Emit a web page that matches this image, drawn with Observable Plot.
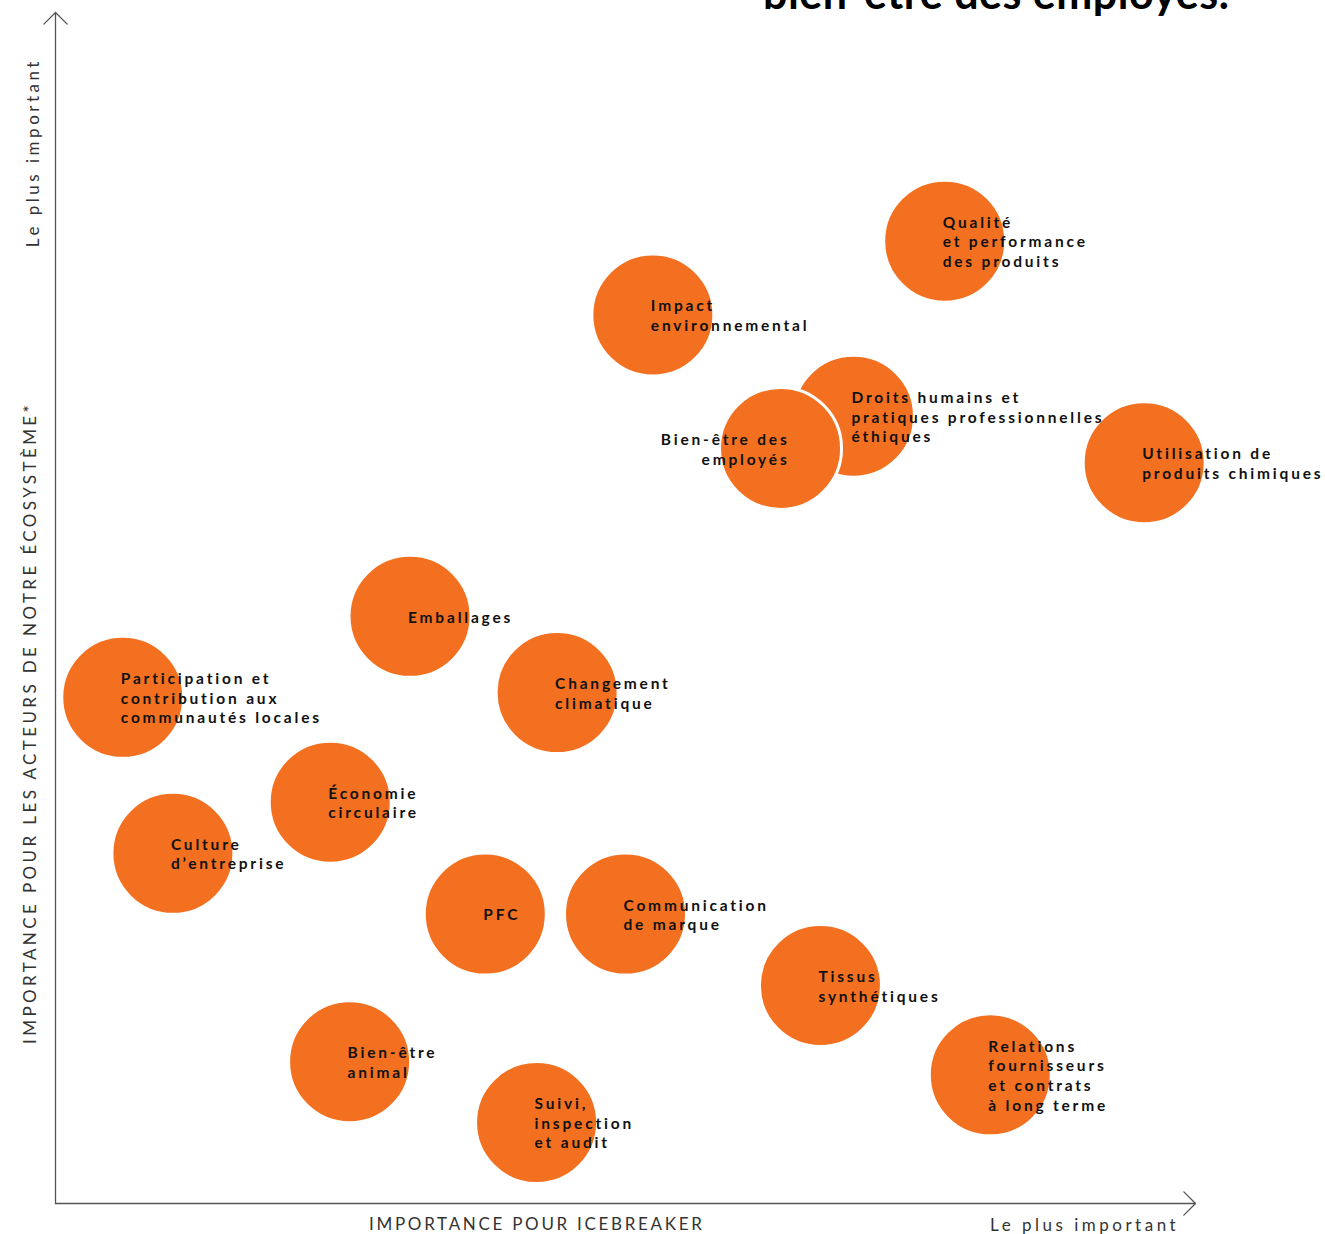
<!DOCTYPE html>
<html>
<head>
<meta charset="utf-8">
<script src="https://cdn.jsdelivr.net/npm/d3@7"></script>
<script src="https://cdn.jsdelivr.net/npm/@observablehq/plot@0.6"></script>
<style>
  body { margin: 0; background: #fff; }
  #wrap { position: relative; width: 1325px; height: 1234px; overflow: hidden; }
  #title { position: absolute; left: 763px; top: -29px; font-family: Lato, sans-serif; font-weight: 700; font-size: 43px; line-height: 1; white-space: nowrap; color: #000; letter-spacing: 0.5px; }
</style>
</head>
<body>
<div id="wrap">
  <div id="chart"></div>
  <div id="title">bien-être des employés.</div>
</div>
<script>
// Topics (labels with line breaks), importance for Icebreaker (x), importance for ecosystem actors (y)
const topics = [
  "Qualité\net performance\ndes produits",
  "Impact\nenvironnemental",
  "Droits humains et\npratiques professionnelles\néthiques",
  "Bien-être des\nemployés",
  "Utilisation de\nproduits chimiques",
  "Emballages",
  "Participation et\ncontribution aux\ncommunautés locales",
  "Changement\nclimatique",
  "Économie\ncirculaire",
  "Culture\nd’entreprise",
  "PFC",
  "Communication\nde marque",
  "Tissus\nsynthétiques",
  "Bien-être\nanimal",
  "Relations\nfournisseurs\net contrats\nà long terme",
  "Suivi,\ninspection\net audit"
];
const icebreaker = [7.80, 5.24, 7.00, 6.36, 9.55, 3.11, 0.59, 4.40, 2.41, 1.03, 3.77, 5.00, 6.71, 2.58, 8.20, 4.22];
const ecosystem  = [8.08, 7.46, 6.61, 6.34, 6.22, 4.93, 4.25, 4.29, 3.37, 2.94, 2.43, 2.43, 1.83, 1.19, 1.08, 0.68];
// label set to the left of the bubble centre (text ends there) instead of starting there
const labelLeft = [false, false, false, true, false, false, false, false, false, false, false, false, false, false, false, false];

const xAxisTitle = "IMPORTANCE POUR ICEBREAKER";
const yAxisTitle = "IMPORTANCE POUR LES ACTEURS DE NOTRE ÉCOSYSTÈME*";
const mostImportant = "Le plus important";

const data = topics.map((t, i) => ({ topic: t, x: icebreaker[i], y: ecosystem[i], left: labelLeft[i] }));
const rightLabels = data.filter(d => !d.left);
const leftLabels = data.filter(d => d.left);

const orange = "#F37021";
const axisColor = "#555";
const labelFont = "Lato, sans-serif";

const chart = Plot.plot({
  width: 1325,
  height: 1234,
  marginLeft: 55,
  marginRight: 130,
  marginTop: 12,
  marginBottom: 31,
  x: { domain: [0, 10], axis: null },
  y: { domain: [0, 10], axis: null },
  style: { background: "transparent", fontFamily: labelFont, overflow: "visible" },
  marks: [
    Plot.arrow([0], { x1: 0, y1: 0, x2: 10, y2: 0, stroke: axisColor, strokeWidth: 1.3, headLength: 19, headAngle: 90 }),
    Plot.arrow([0], { x1: 0, y1: 0, x2: 0, y2: 10, stroke: axisColor, strokeWidth: 1.3, headLength: 19, headAngle: 90 }),
    Plot.dot(data, { x: "x", y: "y", r: 61, fill: orange, fillOpacity: 1, stroke: "white", strokeWidth: 3 }),
    Plot.text(rightLabels, { x: "x", y: "y", text: "topic", textAnchor: "start", dx: -2, lineHeight: 1.27, fontSize: 15.5, fontWeight: 700, fill: "#111" }),
    Plot.text(leftLabels, { x: "x", y: "y", text: "topic", textAnchor: "end", dx: 9, lineHeight: 1.27, fontSize: 15.5, fontWeight: 700, fill: "#111" }),
    Plot.text([xAxisTitle], { x: 2.75, y: 0, text: d => d, textAnchor: "start", dy: 21, fontSize: 17, fill: "#333" }),
    Plot.text([mostImportant], { x: 9.83, y: 0, text: d => d, textAnchor: "end", dy: 22, dx: 3, fontSize: 17, fill: "#333" }),
    Plot.text([mostImportant], { x: 0, y: 8.03, text: d => d, textAnchor: "start", rotate: -90, dx: -22, fontSize: 17, fill: "#333" }),
    Plot.text([yAxisTitle], { x: 0, y: 1.34, text: d => d, textAnchor: "start", rotate: -90, dx: -25, fontSize: 17, fill: "#333" })
  ]
});
// letter spacing (Plot has no option for it)
const spacing = new Map([[xAxisTitle, "2.7px"], [yAxisTitle, "3.4px"], [mostImportant, "3.5px"]]);
d3.select(chart).selectAll("text").each(function() {
  const s = spacing.get(this.textContent);
  this.style.letterSpacing = s || "2.8px";
});
document.getElementById("chart").appendChild(chart);
</script>
</body>
</html>
